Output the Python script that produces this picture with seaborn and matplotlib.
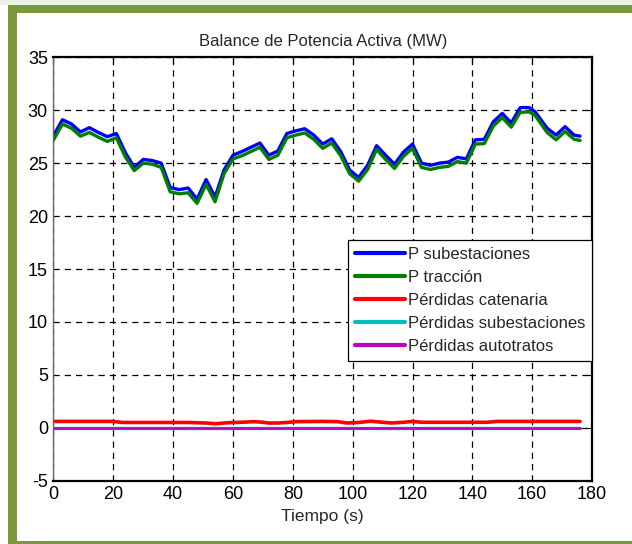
import matplotlib
matplotlib.use("Agg")
import matplotlib.pyplot as plt
from matplotlib import font_manager
from matplotlib.patches import Rectangle
import seaborn as sns
import pandas as pd

# Sample times (s) and active power (MW) of substations and traction
tiempo = [0, 3, 6, 9, 12, 15, 18, 21, 24, 27, 30, 33, 36, 39, 42, 45, 48, 51, 54,
          57, 60, 63, 66, 69, 72, 75, 78, 81, 84, 87, 90, 93, 96, 99, 102, 105,
          108, 111, 114, 117, 120, 123, 126, 129, 132, 135, 138, 141, 144, 147,
          150, 153, 156, 159, 161, 165, 168, 171, 174, 176]
p_subestaciones = [27.6, 29.1, 28.7, 27.95, 28.35, 27.9, 27.5, 27.8, 26.0, 24.6,
                   25.35, 25.25, 25.0, 22.7, 22.5, 22.65, 21.6, 23.45, 21.8, 24.35,
                   25.75, 26.1, 26.5, 26.9, 25.75, 26.15, 27.8, 28.05, 28.25, 27.65,
                   26.8, 27.3, 26.1, 24.35, 23.65, 24.8, 26.65, 25.75, 24.9, 26.05,
                   26.8, 25.0, 24.8, 25.0, 25.1, 25.55, 25.4, 27.2, 27.25, 28.9,
                   29.7, 28.8, 30.25, 30.25, 29.85, 28.3, 27.65, 28.45, 27.65, 27.55]
p_traccion = [27.2, 28.7, 28.3, 27.55, 27.9, 27.45, 27.05, 27.4, 25.6, 24.3,
              25.0, 24.9, 24.6, 22.3, 22.1, 22.2, 21.2, 23.0, 21.35, 24.0,
              25.4, 25.7, 26.1, 26.5, 25.35, 25.75, 27.4, 27.65, 27.85, 27.25,
              26.4, 26.9, 25.7, 24.0, 23.3, 24.4, 26.3, 25.35, 24.5, 25.65,
              26.4, 24.6, 24.4, 24.6, 24.7, 25.15, 25.0, 26.8, 26.85, 28.5,
              29.3, 28.4, 29.8, 29.85, 29.5, 27.9, 27.2, 28.0, 27.25, 27.15]

# Losses (MW)
t_catenaria = [0, 20, 23, 30, 45, 51, 54, 57, 60, 63, 67, 70, 72, 75, 78, 81, 90,
               95, 98, 102, 106, 110, 113, 117, 120, 123, 145, 148, 176]
perdidas_catenaria = [0.6, 0.6, 0.5, 0.5, 0.5, 0.45, 0.38, 0.45, 0.5, 0.52, 0.58,
                      0.52, 0.45, 0.45, 0.5, 0.58, 0.6, 0.58, 0.45, 0.5, 0.62,
                      0.52, 0.45, 0.52, 0.6, 0.52, 0.52, 0.6, 0.6]
t_extremos = [0, 176]
perdidas_subestaciones = [0.02, 0.02]
perdidas_autotratos = [0.0, 0.0]

etiquetas = ["P subestaciones", "P tracción", "Pérdidas catenaria",
             "Pérdidas subestaciones", "Pérdidas autotratos"]
colores = ["#0000ff", "#007f00", "#ff0000", "#00bfbf", "#bf00bf"]
grosores = [2.4, 2.4, 2.6, 2.4, 1.8]

sns.set_style("white")
nombres = {f.name for f in font_manager.fontManager.ttflist}
fuente = "Liberation Sans Narrow" if "Liberation Sans Narrow" in nombres else "Liberation Sans"
plt.rcParams["font.family"] = [fuente, "DejaVu Sans"]
plt.rcParams["axes.unicode_minus"] = False

fig = plt.figure(figsize=(6.32, 5.44), dpi=100)
fig.patch.set_facecolor("white")

# Olive frame around the figure
verde = "#7a983c"
fig.patches.append(Rectangle((0, 1 - 5 / 544), 1, 5 / 544, transform=fig.transFigure,
                             facecolor="#eef1e6", edgecolor="none", zorder=0))
fig.patches.append(Rectangle((8 / 632, 1 - 13 / 544), 1, 8 / 544, transform=fig.transFigure,
                             facecolor=verde, edgecolor="none", zorder=0))
fig.patches.append(Rectangle((8 / 632, 0), 9 / 632, 1 - 5 / 544, transform=fig.transFigure,
                             facecolor=verde, edgecolor="none", zorder=0))
fig.patches.append(Rectangle((8 / 632, 0), 1, 3.5 / 544, transform=fig.transFigure,
                             facecolor=verde, edgecolor="none", zorder=0))

ax = fig.add_axes([53.5 / 632, 1 - 480.7 / 544, (592 - 53.5) / 632, (480.7 - 57.3) / 544])

series = [
    (tiempo, p_subestaciones),
    (tiempo, p_traccion),
    (t_catenaria, perdidas_catenaria),
    (t_extremos, perdidas_subestaciones),
    (t_extremos, perdidas_autotratos),
]
for (tx, vals), lab, col, lw in zip(series, etiquetas, colores, grosores):
    df = pd.DataFrame({"t": tx, "v": vals})
    sns.lineplot(data=df, x="t", y="v", ax=ax, color=col, lw=lw, label=lab,
                 sort=False, estimator=None)

ax.set_xlim(0, 180)
ax.set_ylim(-5, 35)
ax.set_xticks(range(0, 181, 20))
ax.set_yticks(range(-5, 36, 5))
ax.grid(True, color="black", linestyle=(0, (5, 4)), linewidth=0.9)
ax.set_axisbelow(True)
ax.tick_params(direction="in", length=5, width=0.8, top=True, right=True,
               labelsize=13, pad=4, colors="black")
for lado in ["top", "right", "bottom"]:
    ax.spines[lado].set_color("black")
    ax.spines[lado].set_linewidth(1.6)
ax.spines["left"].set_color("#666666")
ax.spines["left"].set_linewidth(1.0)

ax.set_title("Balance de Potencia Activa (MW)", fontsize=12, pad=8)
ax.set_xlabel("Tiempo (s)", fontsize=12.5, labelpad=4)
ax.set_ylabel("")

leg = ax.legend(loc="upper right", bbox_to_anchor=(1.0, 0.5685), borderaxespad=0,
                fontsize=12, handlelength=3.0, handletextpad=0.2, labelspacing=0.49,
                borderpad=0.4, fancybox=False, framealpha=1, edgecolor="black")
leg.get_frame().set_linewidth(0.9)
for h in leg.get_lines():
    h.set_linewidth(3)

fig.savefig("out.png", dpi=100)
